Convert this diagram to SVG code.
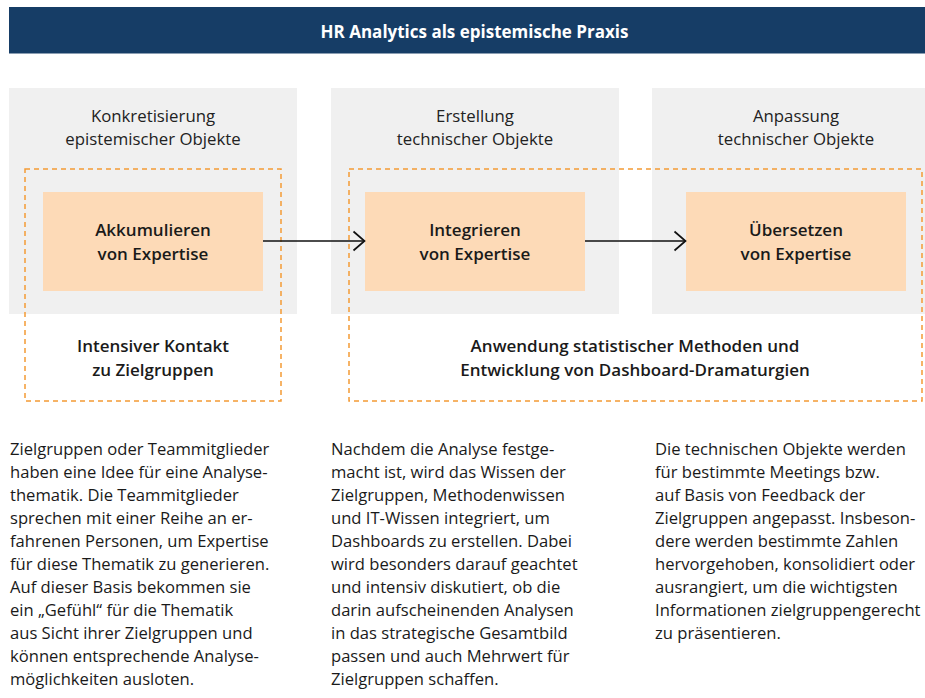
<svg xmlns="http://www.w3.org/2000/svg" width="925" height="698" viewBox="0 0 925 698">
<defs>
<style>
text{font-family:"Open Sans","Noto Sans","Liberation Sans",sans-serif;fill:#1a1a1a}
.hdr{font-size:17px;font-weight:700;fill:#ffffff}
.ptitle{font-size:16.8px;font-weight:400;fill:#222}
.lbl{font-size:17px;font-weight:600}
.body{font-size:16.6px}
.panel{fill:#f0f0f0}
.box{fill:#fddab7}
.dash{fill:none;stroke:#f39a35;stroke-width:1.5;stroke-dasharray:5 4}
.conn{fill:none;stroke:#111;stroke-width:1.7}
</style>
<marker id="arr" viewBox="0 0 14 22" refX="12.5" refY="11" markerWidth="14" markerHeight="22" markerUnits="userSpaceOnUse" orient="auto">
<path d="M1.5,1.5 L12.5,11 L1.5,20.5" fill="none" stroke="#111" stroke-width="1.7"/>
</marker>
</defs>
<rect width="925" height="698" fill="#ffffff"/>
<g id="header">
<rect x="9" y="7" width="916" height="46.5" fill="#163d66"/>
<text class="hdr" x="474.5" y="38" text-anchor="middle">HR Analytics als epistemische Praxis</text>
</g>
<g id="panel-konkretisierung">
<rect class="panel" x="9" y="88" width="288" height="226"/>
<text class="ptitle" text-anchor="middle" x="153" y="121.5">Konkretisierung</text>
<text class="ptitle" text-anchor="middle" x="153" y="145">epistemischer Objekte</text>
</g>
<g id="panel-erstellung">
<rect class="panel" x="331" y="88" width="288" height="226"/>
<text class="ptitle" text-anchor="middle" x="475" y="121.5">Erstellung</text>
<text class="ptitle" text-anchor="middle" x="475" y="145">technischer Objekte</text>
</g>
<g id="panel-anpassung">
<rect class="panel" x="652" y="88" width="273" height="226"/>
<text class="ptitle" text-anchor="middle" x="796" y="121.5">Anpassung</text>
<text class="ptitle" text-anchor="middle" x="796" y="145">technischer Objekte</text>
</g>
<g id="group-kontakt">
<rect class="dash" x="25" y="169" width="256" height="232"/>
<text class="lbl" text-anchor="middle" x="153" y="352">Intensiver Kontakt</text>
<text class="lbl" text-anchor="middle" x="153" y="375.5">zu Zielgruppen</text>
</g>
<g id="group-methoden">
<rect class="dash" x="349" y="169" width="573" height="232"/>
<text class="lbl" text-anchor="middle" x="635" y="352">Anwendung statistischer Methoden und</text>
<text class="lbl" text-anchor="middle" x="635" y="375.5">Entwicklung von Dashboard-Dramaturgien</text>
</g>
<g id="node-akkumulieren">
<rect class="box" x="43" y="192" width="220" height="99"/>
<text class="lbl" text-anchor="middle" x="153" y="236">Akkumulieren</text>
<text class="lbl" text-anchor="middle" x="153" y="259.5">von Expertise</text>
</g>
<g id="node-integrieren">
<rect class="box" x="365" y="192" width="220" height="99"/>
<text class="lbl" text-anchor="middle" x="475" y="236">Integrieren</text>
<text class="lbl" text-anchor="middle" x="475" y="259.5">von Expertise</text>
</g>
<g id="node-uebersetzen">
<rect class="box" x="686" y="192" width="220" height="99"/>
<text class="lbl" text-anchor="middle" x="796" y="236">Übersetzen</text>
<text class="lbl" text-anchor="middle" x="796" y="259.5">von Expertise</text>
</g>
<g id="connectors">
<line class="conn" x1="263" y1="241" x2="364.5" y2="241" marker-end="url(#arr)"/>
<line class="conn" x1="585" y1="241" x2="685.5" y2="241" marker-end="url(#arr)"/>
</g>
<g id="text-col1">
<text class="body" x="10" y="454.5">Zielgruppen oder Teammitglieder</text>
<text class="body" x="10" y="477.5">haben eine Idee für eine Analyse-</text>
<text class="body" x="10" y="500.5">thematik. Die Teammitglieder</text>
<text class="body" x="10" y="523.5">sprechen mit einer Reihe an er-</text>
<text class="body" x="10" y="546.5">fahrenen Personen, um Expertise</text>
<text class="body" x="10" y="569.5">für diese Thematik zu generieren.</text>
<text class="body" x="10" y="592.5">Auf dieser Basis bekommen sie</text>
<text class="body" x="10" y="615.5">ein „Gefühl“ für die Thematik</text>
<text class="body" x="10" y="638.5">aus Sicht ihrer Zielgruppen und</text>
<text class="body" x="10" y="661.5">können entsprechende Analyse-</text>
<text class="body" x="10" y="684.5">möglichkeiten ausloten.</text>
</g>
<g id="text-col2">
<text class="body" x="331" y="454.5">Nachdem die Analyse festge-</text>
<text class="body" x="331" y="477.5">macht ist, wird das Wissen der</text>
<text class="body" x="331" y="500.5">Zielgruppen, Methodenwissen</text>
<text class="body" x="331" y="523.5">und IT-Wissen integriert, um</text>
<text class="body" x="331" y="546.5">Dashboards zu erstellen. Dabei</text>
<text class="body" x="331" y="569.5">wird besonders darauf geachtet</text>
<text class="body" x="331" y="592.5">und intensiv diskutiert, ob die</text>
<text class="body" x="331" y="615.5">darin aufscheinenden Analysen</text>
<text class="body" x="331" y="638.5">in das strategische Gesamtbild</text>
<text class="body" x="331" y="661.5">passen und auch Mehrwert für</text>
<text class="body" x="331" y="684.5">Zielgruppen schaffen.</text>
</g>
<g id="text-col3">
<text class="body" x="655" y="454.5">Die technischen Objekte werden</text>
<text class="body" x="655" y="477.5">für bestimmte Meetings bzw.</text>
<text class="body" x="655" y="500.5">auf Basis von Feedback der</text>
<text class="body" x="655" y="523.5">Zielgruppen angepasst. Insbeson-</text>
<text class="body" x="655" y="546.5">dere werden bestimmte Zahlen</text>
<text class="body" x="655" y="569.5">hervorgehoben, konsolidiert oder</text>
<text class="body" x="655" y="592.5">ausrangiert, um die wichtigsten</text>
<text class="body" x="655" y="615.5">Informationen zielgruppengerecht</text>
<text class="body" x="655" y="638.5">zu präsentieren.</text>
</g>
</svg>
